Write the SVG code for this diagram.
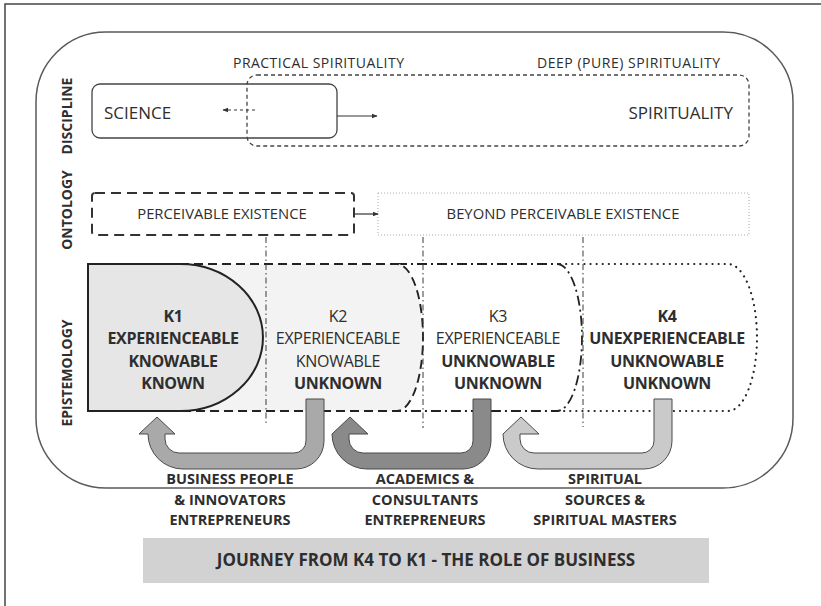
<svg xmlns="http://www.w3.org/2000/svg" width="821" height="606" viewBox="0 0 821 606">
  <defs>
    <marker id="head" viewBox="0 0 10 10" refX="9" refY="5" markerWidth="6" markerHeight="6" orient="auto" markerUnits="userSpaceOnUse">
      <path d="M0,1 L10,5 L0,9 Z" fill="#333"/>
    </marker>
    <style>
      text { font-family: "Open Sans", "DejaVu Sans", sans-serif; fill: #2e2e2e; }
      .axis { font-size: 14px; font-weight: bold; text-anchor: middle; }
      .lbl { font-size: 14px; }
      .onto { font-size: 14.8px; text-anchor: middle; }
      .big { font-size: 17px; }
      .k { font-size: 16px; text-anchor: middle; letter-spacing: -0.3px; }
      .b { font-weight: bold; }
      .who { font-size: 14.5px; font-weight: bold; text-anchor: middle; }
      .guide { fill: none; stroke: #3a3a3a; stroke-width: 1; stroke-dasharray: 6 3 1.5 3; }
      .uarrow { stroke: #4a4a4a; stroke-width: 1; }
    </style>
  </defs>

  <!-- page frame -->
  <path d="M5,606 V4 H821" fill="none" stroke="#444" stroke-width="1.5"/>

  <!-- main rounded panel -->
  <path id="panel" d="M106,32 H723 A70,70 0 0 1 793,102 V418 A70,70 0 0 1 723,488 H106 A70,70 0 0 1 36,418 V102 A70,70 0 0 1 106,32 Z" fill="#fff" stroke="#5a5a5a" stroke-width="1.5"/>

  <!-- row titles -->
  <text class="axis" transform="translate(72,116) rotate(-90)">DISCIPLINE</text>
  <text class="axis" transform="translate(72,210) rotate(-90)">ONTOLOGY</text>
  <text class="axis" transform="translate(72,373) rotate(-90)">EPISTEMOLOGY</text>

  <!-- discipline row -->
  <text class="lbl" x="233" y="68" textLength="171">PRACTICAL SPIRITUALITY</text>
  <text class="lbl" x="537" y="68" textLength="183">DEEP (PURE) SPIRITUALITY</text>

  <g id="spirituality">
    <rect x="247" y="75" width="502" height="71" rx="10" fill="none" stroke="#444" stroke-width="1.3" stroke-dasharray="4 3"/>
    <text class="big" x="733" y="119" text-anchor="end">SPIRITUALITY</text>
  </g>
  <g id="science">
    <rect x="92" y="84" width="245" height="54" rx="8" fill="none" stroke="#444" stroke-width="1.3"/>
    <text class="big" x="104" y="119">SCIENCE</text>
  </g>

  <!-- ontology row -->
  <g id="perceivable">
    <rect x="92" y="193" width="262" height="42" rx="3" fill="none" stroke="#333" stroke-width="2" stroke-dasharray="10 6"/>
    <text class="onto" x="222" y="219">PERCEIVABLE EXISTENCE</text>
  </g>
  <g id="beyond">
    <rect x="378" y="193" width="371" height="42" fill="none" stroke="#aaa" stroke-width="1" stroke-dasharray="1 2"/>
    <text class="onto" x="563" y="219">BEYOND PERCEIVABLE EXISTENCE</text>
  </g>

  <!-- epistemology row: K4 at the back, K1 in front -->
  <g id="k4">
    <path d="M88,264 H728 A29,73.5 0 0 1 728,411 H88 Z" fill="#fff"/>
    <path d="M560,264 H728 A29,73.5 0 0 1 728,411 H555" fill="none" stroke="#222" stroke-width="2.2" stroke-linecap="round" stroke-dasharray="0.1 6"/>
    <text class="k b" x="667" y="322">K4</text>
    <text class="k b" x="667" y="344">UNEXPERIENCEABLE</text>
    <text class="k b" x="667" y="367">UNKNOWABLE</text>
    <text class="k b" x="667" y="389">UNKNOWN</text>
  </g>
  <g id="k3">
    <path d="M88,264 H557 A25,73.5 0 0 1 557,411 H88 Z" fill="#fff"/>
    <path d="M397,264 H557 A25,73.5 0 0 1 557,411 H392" fill="none" stroke="#222" stroke-width="1.8" stroke-dasharray="10 4 2 4"/>
    <text class="k" x="498" y="322">K3</text>
    <text class="k" x="498" y="344">EXPERIENCEABLE</text>
    <text class="k b" x="498" y="367">UNKNOWABLE</text>
    <text class="k b" x="498" y="389">UNKNOWN</text>
  </g>
  <g id="k2">
    <path d="M88,264 H397 A26,73.5 0 0 1 397,411 H88 Z" fill="#f3f3f3"/>
    <path d="M180,264 H397 A26,73.5 0 0 1 397,411 H180" fill="none" stroke="#222" stroke-width="1.9" stroke-dasharray="9 5"/>
    <text class="k" x="338" y="322">K2</text>
    <text class="k" x="338" y="344">EXPERIENCEABLE</text>
    <text class="k" x="338" y="367">KNOWABLE</text>
    <text class="k b" x="338" y="389">UNKNOWN</text>
  </g>
  <g id="k1">
    <path d="M88,264 H180 A83,73.5 0 0 1 180,411 H88 Z" fill="#e6e6e6" stroke="#222" stroke-width="2"/>
    <text class="k b" x="173" y="322">K1</text>
    <text class="k b" x="173" y="344">EXPERIENCEABLE</text>
    <text class="k b" x="173" y="367">KNOWABLE</text>
    <text class="k b" x="173" y="389">KNOWN</text>
  </g>

  <!-- connectors -->
  <g id="connectors">
    <line x1="255" y1="110" x2="223" y2="110" stroke="#333" stroke-width="1.2" stroke-dasharray="3 3" marker-end="url(#head)"/>
    <line x1="337" y1="116" x2="377" y2="116" stroke="#333" stroke-width="1.2" marker-end="url(#head)"/>
    <line x1="354" y1="214" x2="378" y2="214" stroke="#333" stroke-width="1.2" marker-end="url(#head)"/>

    <line class="guide" x1="266" y1="237" x2="266" y2="424"/>
    <line class="guide" x1="423" y1="237" x2="423" y2="428"/>
    <line class="guide" x1="583" y1="237" x2="583" y2="427"/>

    <!-- U-turn arrows: K2 to K1, K3 to K2, K4 to K3 -->
    <path class="uarrow" fill="#a9a9a9" d="M324,399 V441 A28,28 0 0 1 296,469 H183 A35,35 0 0 1 148,434 H139 L157,417 L175,434 H165 V439 A14,14 0 0 0 179,453 H294 A12,12 0 0 0 306,441 V399 Z"/>
    <path class="uarrow" fill="#8a8a8a" d="M491,399 V441 A28,28 0 0 1 463,469 H367 A35,35 0 0 1 332,434 H332 L350,417 L368,434 H349 V439 A14,14 0 0 0 363,453 H461 A12,12 0 0 0 473,441 V399 Z"/>
    <path class="uarrow" fill="#cacaca" d="M672,399 V441 A28,28 0 0 1 644,469 H538 A35,35 0 0 1 503,434 H503 L521,417 L539,434 H520 V439 A14,14 0 0 0 534,453 H642 A12,12 0 0 0 654,441 V399 Z"/>
  </g>

  <!-- actor labels -->
  <text class="who" x="230" y="484">BUSINESS PEOPLE</text>
  <text class="who" x="230" y="505">&amp; INNOVATORS</text>
  <text class="who" x="230" y="525">ENTREPRENEURS</text>
  <text class="who" x="425" y="484">ACADEMICS &amp;</text>
  <text class="who" x="425" y="505">CONSULTANTS</text>
  <text class="who" x="425" y="525">ENTREPRENEURS</text>
  <text class="who" x="605" y="484">SPIRITUAL</text>
  <text class="who" x="605" y="505">SOURCES &amp;</text>
  <text class="who" x="605" y="525">SPIRITUAL MASTERS</text>

  <!-- banner -->
  <g id="banner">
    <rect x="143" y="538" width="566" height="45" fill="#d2d2d2"/>
    <text x="426" y="566" text-anchor="middle" font-size="17" font-weight="bold">JOURNEY FROM K4 TO K1 - THE ROLE OF BUSINESS</text>
  </g>
</svg>
